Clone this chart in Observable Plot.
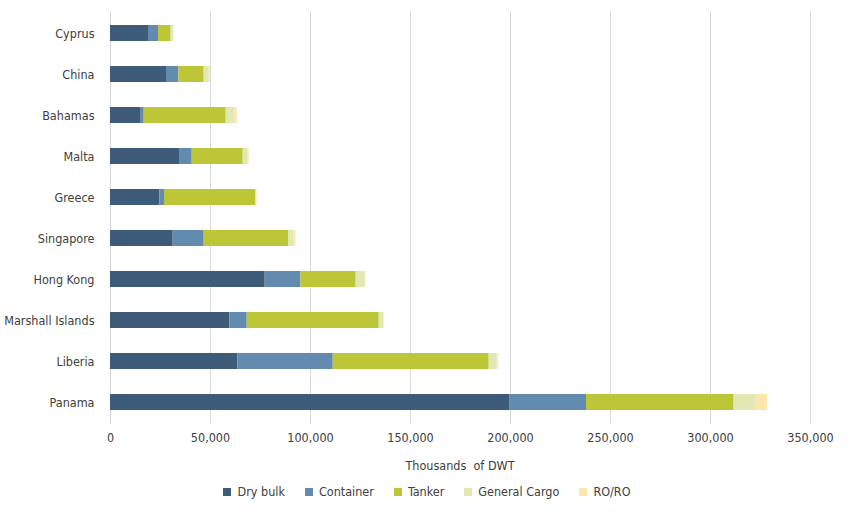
<!DOCTYPE html>
<html>
<head>
<meta charset="utf-8">
<script src="https://cdn.jsdelivr.net/npm/d3@7"></script>
<script src="https://cdn.jsdelivr.net/npm/@observablehq/plot@0.6"></script>
<style>
  html, body { margin: 0; padding: 0; background: #fff; }
  body { width: 850px; height: 512px; overflow: hidden;
    font-family: "DejaVu Sans Condensed", "DejaVu Sans", sans-serif;
    font-stretch: condensed; color: #404040; }
  #chart svg { display: block; }
  #xlabel { text-align: center; font-size: 12.5px; padding-left: 70px; margin-top: 8px; height: 18px; }
  #legend { display: flex; justify-content: center; gap: 20px; font-size: 12.5px; margin-top: 8px; padding-left: 4px; }
  #legend span.item { display: flex; align-items: center; gap: 6px; }
  #legend span.sw { width: 8px; height: 8px; display: inline-block; }
</style>
</head>
<body>
<div id="chart"></div>
<div id="xlabel">Thousands &nbsp;of DWT</div>
<div id="legend"></div>
<script>
const countries = ["Cyprus", "China", "Bahamas", "Malta", "Greece", "Singapore", "Hong Kong", "Marshall Islands", "Liberia", "Panama"];
const types = ["Dry bulk", "Container", "Tanker", "General Cargo", "RO/RO"];
const colors = ["#3e5c7a", "#638bb0", "#bcc636", "#e2e8b3", "#fbe6ad"];
const dryBulk      = [19000, 28000, 15350, 34850, 24700, 31350, 77350, 59700, 63700, 199800];
const container    = [5000, 6200, 1500, 6000, 2300, 15500, 17850, 8650, 47650, 38200];
const tanker       = [6300, 12650, 41000, 25500, 45700, 42350, 27650, 66000, 78000, 73800];
const generalCargo = [1150, 2500, 4350, 2500, 500, 2500, 4500, 2150, 4000, 10700];
const roRo         = [300, 500, 1150, 500, 100, 1000, 300, 300, 500, 6000];
const xTicks = [0, 50000, 100000, 150000, 200000, 250000, 300000, 350000];

const series = [dryBulk, container, tanker, generalCargo, roRo];
const rows = [];
countries.forEach((c, i) => {
  types.forEach((t, j) => rows.push({country: c, type: t, value: series[j][i]}));
});

const fmt = d3.format(",");
const chart = Plot.plot({
  width: 850,
  height: 450,
  marginTop: 11,
  marginBottom: 26,
  marginLeft: 110,
  marginRight: 40,
  style: {fontFamily: "inherit", fontSize: "12.5px", color: "#404040"},
  x: {domain: [0, 350000], ticks: xTicks, tickFormat: fmt, label: null},
  y: {domain: countries, label: null, paddingInner: 0.61, paddingOuter: 0.31},
  color: {domain: types, range: colors},
  marks: [
    Plot.ruleX(xTicks, {stroke: "#d9d9d9", strokeWidth: 1}),
    Plot.barX(rows, Plot.stackX({x: "value", y: "country", fill: "type", order: types})),
    Plot.axisX({ticks: xTicks, tickFormat: fmt, tickSize: 0, tickPadding: 9, label: null}),
    Plot.axisY({tickSize: 0, tickPadding: 16, label: null})
  ]
});
document.getElementById("chart").appendChild(chart);

const legend = document.getElementById("legend");
types.forEach((t, j) => {
  const item = document.createElement("span");
  item.className = "item";
  const sw = document.createElement("span");
  sw.className = "sw";
  sw.style.background = colors[j];
  item.appendChild(sw);
  item.appendChild(document.createTextNode(t));
  legend.appendChild(item);
});
</script>
</body>
</html>
